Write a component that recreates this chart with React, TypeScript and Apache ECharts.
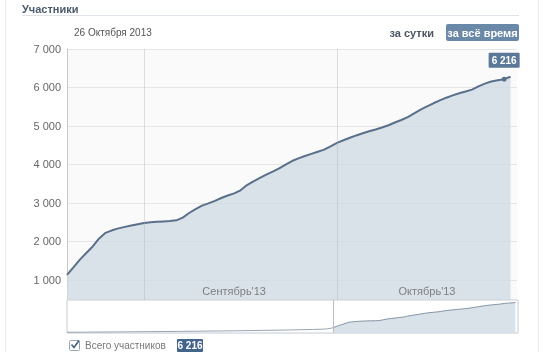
import React, { useEffect, useRef } from 'react';
import * as echarts from 'echarts';

const title = 'Участники';
const dateLabel = '26 Октября 2013';
const periodDay = 'за сутки';
const periodAll = 'за всё время';
const legendLabel = 'Всего участников';

const startDate = '2013-08-20';
const endDate = '2013-10-29';
const overviewStart = '2013-05-11';

const dailyValues = [
  1130, 1330, 1530, 1700, 1870, 2080, 2225, 2290, 2340, 2380,
  2415, 2450, 2480, 2500, 2510, 2520, 2530, 2550, 2620, 2740,
  2840, 2930, 2990, 3055, 3130, 3195, 3250, 3330, 3465, 3560,
  3650, 3735, 3815, 3900, 3995, 4090, 4160, 4220, 4275, 4330,
  4385, 4470, 4560, 4630, 4695, 4755, 4810, 4865, 4910, 4960,
  5020, 5090, 5155, 5230, 5330, 5425, 5510, 5590, 5665, 5735,
  5795, 5850, 5895, 5945, 6030, 6100, 6155, 6190, 6216, 6280,
];

const earlyDates = ['2013-05-11', '2013-06-01', '2013-06-22', '2013-07-13', '2013-08-03', '2013-08-12', '2013-08-17', '2013-08-19'];
const earlyValues = [150, 230, 330, 450, 620, 720, 820, 950];

const monthLines = ['2013-09-01', '2013-10-01'];
const monthLabelDates = ['2013-09-15', '2013-10-15'];
const monthLabels = ["Сентябрь'13", "Октябрь'13"];

const highlightDate = '2013-10-27';
const highlightValue = 6216;

const yMin = 480;
const yMax = 7000;

const FONT = '"Liberation Sans", Arial, sans-serif';

function dayString(base: string, offset: number): string {
  const [y, m, d] = base.split('-').map(Number);
  const dt = new Date(Date.UTC(y, m - 1, d + offset));
  return dt.toISOString().slice(0, 10);
}

const dailyDates = dailyValues.map((_, i) => dayString(startDate, i));

function fmt(v: number): string {
  return String(Math.round(v)).replace(/\B(?=(\d{3})+(?!\d))/g, ' ');
}

export default function App() {
  const ref = useRef<HTMLDivElement>(null);

  useEffect(() => {
    document.body.style.margin = '0';
    if (!ref.current) return;
    const chart = echarts.init(ref.current, undefined, { renderer: 'svg' });

    const lineColor = '#5a708a';

    const mainData = dailyDates.map((d, i) => {
      if (d === highlightDate) {
        return {
          value: [d, dailyValues[i]],
          symbol: 'circle',
          symbolSize: 5,
          itemStyle: { color: lineColor },
          label: {
            show: true,
            position: 'top',
            distance: 9,
            formatter: fmt(highlightValue),
            backgroundColor: '#5b7898',
            color: '#ffffff',
            padding: [3, 3, 2, 3],
            fontSize: 10,
            fontWeight: 'bold',
            fontFamily: FONT,
            borderRadius: 1,
          },
        };
      }
      return { value: [d, dailyValues[i]] };
    });

    const earlyData = earlyDates.map((d, i) => [d, earlyValues[i]]);
    earlyData.push([dailyDates[0], dailyValues[0]]);

    const option: any = {
      animation: false,
      grid: [
        { left: 67, top: 49, width: 450, height: 251, show: true, backgroundColor: '#fafafa', borderWidth: 0 },
        { left: 67, top: 300, width: 451, height: 33, show: true, backgroundColor: '#ffffff', borderColor: '#c4ccd4', borderWidth: 1 },
      ],
      xAxis: [
        {
          type: 'time', gridIndex: 0, min: startDate, max: endDate,
          axisLine: { show: false }, axisTick: { show: false }, axisLabel: { show: false }, splitLine: { show: false },
        },
        {
          type: 'time', gridIndex: 1, min: overviewStart, max: endDate, show: false,
          splitLine: { show: false },
        },
      ],
      yAxis: [
        {
          type: 'value', gridIndex: 0, min: yMin, max: yMax, minInterval: 1000, maxInterval: 1000,
          axisLine: { show: true, lineStyle: { color: '#c8c8c8' } },
          axisTick: { show: false },
          axisLabel: {
            color: '#666', fontSize: 11, fontFamily: FONT, margin: 6,
            formatter: (v: number) => (v % 1000 === 0 ? fmt(v) : ''),
          },
          splitLine: { show: true, lineStyle: { color: '#e6e6e6' } },
        },
        { type: 'value', gridIndex: 1, min: 0, max: 6800, show: false, splitLine: { show: false } },
      ],
      series: [
        {
          type: 'line', xAxisIndex: 0, yAxisIndex: 0, data: mainData,
          symbol: 'none', showSymbol: true,
          lineStyle: { color: lineColor, width: 2 },
          areaStyle: { color: '#cdd8e3', opacity: 0.75 },
          z: 2,
          markLine: {
            silent: true, symbol: 'none', label: { show: false },
            lineStyle: { color: 'rgba(170,180,192,0.4)', type: 'solid', width: 1 },
            data: monthLines.map((d) => ({ xAxis: d })),
          },
        },
        {
          type: 'scatter', xAxisIndex: 0, yAxisIndex: 0,
          symbol: 'rect', symbolSize: 1, itemStyle: { color: 'transparent' }, silent: true, z: 5,
          data: monthLabelDates.map((d, i) => ({ value: [d, yMin], label: { formatter: monthLabels[i] } })),
          label: { show: true, position: 'top', distance: 3, color: '#666', fontSize: 11, fontFamily: FONT },
        },
        {
          type: 'line', xAxisIndex: 1, yAxisIndex: 1, data: earlyData,
          symbol: 'none', lineStyle: { color: '#9aa5b0', width: 1 },
        },
        {
          type: 'line', xAxisIndex: 1, yAxisIndex: 1, data: dailyDates.map((d, i) => [d, dailyValues[i]]),
          symbol: 'none', lineStyle: { color: '#8493a5', width: 1 },
          areaStyle: { color: '#d9e1e9', opacity: 1 },
          markLine: {
            silent: true, symbol: 'none', label: { show: false },
            lineStyle: { color: '#b4bcc5', type: 'solid', width: 1 },
            data: [{ xAxis: startDate }],
          },
        },
      ],
      graphic: [
        { type: 'line', shape: { x1: 5.5, y1: 0, x2: 5.5, y2: 352 }, style: { stroke: '#ececec', lineWidth: 1 } },
        { type: 'line', shape: { x1: 538.5, y1: 0, x2: 538.5, y2: 352 }, style: { stroke: '#ececec', lineWidth: 1 } },
        { type: 'text', x: 22, y: 9, style: { text: title, font: `bold 11px ${FONT}`, fill: '#4a5b6c', align: 'left', verticalAlign: 'middle' } },
        { type: 'line', shape: { x1: 22, y1: 15.5, x2: 519, y2: 15.5 }, style: { stroke: '#dde3e9', lineWidth: 1 } },
        { type: 'text', x: 74, y: 32, style: { text: dateLabel, font: `10px ${FONT}`, fill: '#555', align: 'left', verticalAlign: 'middle' } },
        { type: 'text', x: 434, y: 33, style: { text: periodDay, font: `bold 11px ${FONT}`, fill: '#4a5663', align: 'right', verticalAlign: 'middle' } },
        { type: 'rect', shape: { x: 446, y: 24, width: 73, height: 17, r: 2 }, style: { fill: '#6a88a7' } },
        { type: 'text', x: 482.5, y: 33, style: { text: periodAll, font: `bold 11px ${FONT}`, fill: '#ffffff', align: 'center', verticalAlign: 'middle' } },
        { type: 'rect', shape: { x: 69.5, y: 340.5, width: 10, height: 10, r: 1 }, style: { fill: '#ffffff', stroke: '#9aa6b2', lineWidth: 1 } },
        { type: 'polyline', shape: { points: [[71.5, 344.5], [74, 347.5], [79, 340.5]] }, style: { stroke: '#3f5f82', lineWidth: 1.6, fill: 'none' } },
        { type: 'text', x: 85, y: 345.5, style: { text: legendLabel, font: `10px ${FONT}`, fill: '#777', align: 'left', verticalAlign: 'middle' } },
        { type: 'rect', shape: { x: 177, y: 339, width: 26, height: 13, r: 1 }, style: { fill: '#44658b' } },
        { type: 'text', x: 190, y: 345.5, style: { text: fmt(highlightValue), font: `bold 10px ${FONT}`, fill: '#ffffff', align: 'center', verticalAlign: 'middle' } },
      ],
    };

    chart.setOption(option);
    return () => chart.dispose();
  }, []);

  return <div ref={ref} style={{ position: 'fixed', left: 0, top: 0, width: 560, height: 352 }} />;
}
